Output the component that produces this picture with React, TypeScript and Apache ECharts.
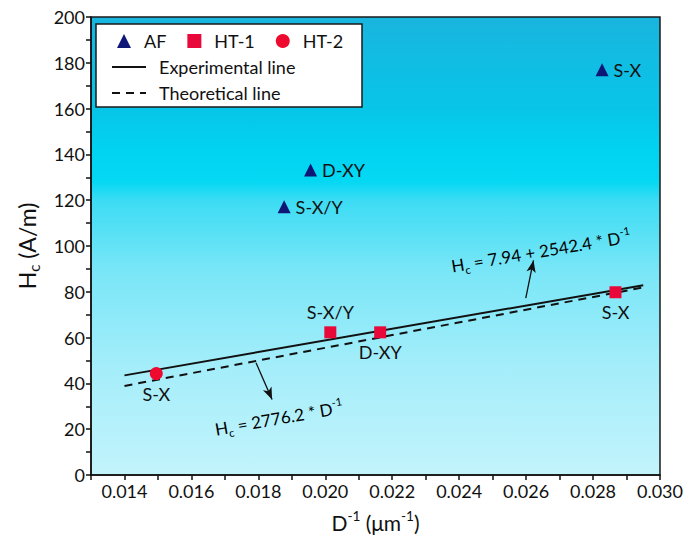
import React, { useEffect, useRef } from "react";
import * as echarts from "echarts";

// ---- data ----
const afX = [0.02827, 0.01956, 0.01877];
const afY = [177.0, 133.2, 117.1];
const afNames = ["S-X", "D-XY", "S-X/Y"];

const ht1X = [0.02015, 0.02164, 0.02867];
const ht1Y = [62.3, 62.3, 79.8];
const ht1Names = ["S-X/Y", "D-XY", "S-X"];

const ht2X = [0.01495];
const ht2Y = [44.3];
const ht2Names = ["S-X"];

const expLineX = [0.014, 0.0295];
const expLineY = [43.5, 82.9];
const theoLineX = [0.014, 0.0295];
const theoLineY = [38.9, 81.9];

// arrows (data coords): [x1, y1, x2, y2]
const arrowUp = [0.02599, 77.2, 0.02622, 93.7];
const arrowDown = [0.01793, 49.0, 0.01841, 33.0];

const yTicks = [0, 200, 20];
const xRange = [0.013, 0.03, 0.001];

const FONT = "Lato";

export default function App() {
  const ref = useRef<HTMLDivElement>(null);
  useEffect(() => {
    if (!ref.current) return;
    const chart = echarts.init(ref.current, null, { renderer: "svg" });

    const afPos = ["right", "right", "right"];
    const ht1Pos = ["top", "bottom", "bottom"];
    const ht2Pos = ["bottom"];

    const mk = (xs: number[], ys: number[], names: string[], pos: string[]) =>
      xs.map((x, i) => ({
        value: [x, ys[i]],
        label: { show: true, formatter: names[i], position: pos[i] },
      }));

    const pointLabel = {
      show: true,
      fontFamily: FONT,
      fontSize: 18,
      color: "#111",
      distance: 5,
    };

    const txt = (s: number) => ({
      n: { fontFamily: FONT, fontSize: s, color: "#111", lineHeight: s + 6 },
      s: { fontFamily: FONT, fontSize: s * 0.65, color: "#111", verticalAlign: "bottom", lineHeight: s * 0.65 },
      p: { fontFamily: FONT, fontSize: s * 0.65, color: "#111", verticalAlign: "top", lineHeight: s * 0.65 },
    });

    const bg = new echarts.graphic.LinearGradient(0, 0, 0, 1, [
      { offset: 0, color: "#19b5de" },
      { offset: 0.2, color: "#08c5e8" },
      { offset: 0.3, color: "#00d4f1" },
      { offset: 0.36, color: "#05d8f3" },
      { offset: 0.4, color: "#3cdcf4" },
      { offset: 0.55, color: "#78e6f7" },
      { offset: 0.75, color: "#a2edfa" },
      { offset: 1, color: "#c3f4fc" },
    ]);

    chart.setOption({
      animation: false,
      grid: {
        left: 91,
        right: 23,
        top: 17,
        bottom: 60,
        show: true,
        backgroundColor: bg,
        borderColor: "#1a1a1a",
        borderWidth: 1.5,
      },
      xAxis: {
        type: "value",
        min: xRange[0],
        max: xRange[1],
        interval: xRange[2],
        name: "{n|D}{p|-1}{n| (μm}{p|-1}{n|)}",
        nameLocation: "middle",
        nameGap: 34,
        nameTextStyle: { rich: txt(21) },
        axisLine: { show: true, onZero: false, lineStyle: { color: "#111", width: 1.5 } },
        axisTick: { show: true, length: 5, lineStyle: { color: "#111", width: 1.5 } },
        splitLine: { show: false },
        axisLabel: {
          fontFamily: FONT,
          fontSize: 18,
          color: "#111",
          margin: 7,
          formatter: (v: number) => {
            const k = Math.round(v * 1000);
            return k % 2 === 0 ? (k / 1000).toFixed(3) : "";
          },
        },
      },
      yAxis: {
        type: "value",
        min: yTicks[0],
        max: yTicks[1],
        interval: yTicks[2],
        name: "{n|H}{s|c}{n| (A/m)}",
        nameLocation: "middle",
        nameGap: 50,
        nameTextStyle: { rich: txt(23) },
        axisLine: { show: true, onZero: false, lineStyle: { color: "#111", width: 1.5 } },
        axisTick: { show: true, length: 5, lineStyle: { color: "#111", width: 1.5 } },
        minorTick: { show: true, splitNumber: 2, length: 5, lineStyle: { color: "#111", width: 1.5 } },
        splitLine: { show: false },
        axisLabel: { fontFamily: FONT, fontSize: 18, color: "#111", margin: 6 },
      },
      legend: [
        {
          data: ["AF", "HT-1", "HT-2"],
          left: 112,
          top: 27,
          itemWidth: 14,
          itemHeight: 14,
          itemGap: 21,
          textStyle: { fontFamily: FONT, fontSize: 18, color: "#111", padding: [0, 0, 0, 8] },
        },
        {
          data: ["Experimental line", "Theoretical line"],
          orient: "vertical",
          left: 106,
          top: 53,
          itemWidth: 34,
          itemHeight: 14,
          itemGap: 8,
          itemStyle: { opacity: 0 },
          textStyle: { fontFamily: FONT, fontSize: 18, color: "#111", padding: [0, 0, 0, 8] },
        },
      ],
      graphic: [
        {
          type: "rect",
          z: 3,
          shape: { x: 96, y: 24, width: 266, height: 83 },
          style: { fill: "#ffffff", stroke: "#1a1a1a", lineWidth: 1.5 },
        },
        {
          type: "text",
          z: 10,
          x: 541,
          y: 251,
          rotation: (9.5 * Math.PI) / 180,
          style: {
            text: "{n|H}{s|c}{n| = 7.94 + 2542.4 * D}{p|-1}",
            align: "center",
            verticalAlign: "middle",
            rich: txt(17),
          },
        },
        {
          type: "text",
          z: 10,
          x: 279,
          y: 418,
          rotation: (10 * Math.PI) / 180,
          style: {
            text: "{n|H}{s|c}{n| = 2776.2 * D}{p|-1}",
            align: "center",
            verticalAlign: "middle",
            rich: txt(17),
          },
        },
      ],
      series: [
        {
          name: "AF",
          type: "scatter",
          z: 4,
          symbol: "triangle",
          symbolSize: 13,
          itemStyle: { color: "#0e1676", opacity: 1 },
          label: pointLabel,
          data: mk(afX, afY, afNames, afPos),
        },
        {
          name: "HT-1",
          type: "scatter",
          z: 4,
          symbol: "rect",
          symbolSize: 12,
          itemStyle: { color: "#e8083a", opacity: 1 },
          label: pointLabel,
          data: mk(ht1X, ht1Y, ht1Names, ht1Pos),
        },
        {
          name: "HT-2",
          type: "scatter",
          z: 4,
          symbol: "circle",
          symbolSize: 13,
          itemStyle: { color: "#ee0a2e", opacity: 1 },
          label: pointLabel,
          data: mk(ht2X, ht2Y, ht2Names, ht2Pos),
        },
        {
          name: "Experimental line",
          type: "line",
          z: 3,
          symbol: "none",
          lineStyle: { color: "#111", width: 2, type: "solid" },
          itemStyle: { color: "#111" },
          data: expLineX.map((x, i) => [x, expLineY[i]]),
          markLine: {
            silent: true,
            symbol: ["none", "arrow"],
            symbolSize: [7, 12],
            label: { show: false },
            lineStyle: { color: "#111", width: 1.3, type: "solid" },
            data: [
              [
                { coord: [arrowUp[0], arrowUp[1]] },
                { coord: [arrowUp[2], arrowUp[3]] },
              ],
              [
                { coord: [arrowDown[0], arrowDown[1]] },
                { coord: [arrowDown[2], arrowDown[3]] },
              ],
            ],
          },
        },
        {
          name: "Theoretical line",
          type: "line",
          z: 3,
          symbol: "none",
          lineStyle: { color: "#111", width: 2, type: [8, 6] },
          itemStyle: { color: "#111" },
          data: theoLineX.map((x, i) => [x, theoLineY[i]]),
        },
      ],
    });
    return () => chart.dispose();
  }, []);
  return (
    <div
      ref={ref}
      style={{ position: "fixed", left: 0, top: 0, width: 686, height: 538, background: "#fff" }}
    />
  );
}
